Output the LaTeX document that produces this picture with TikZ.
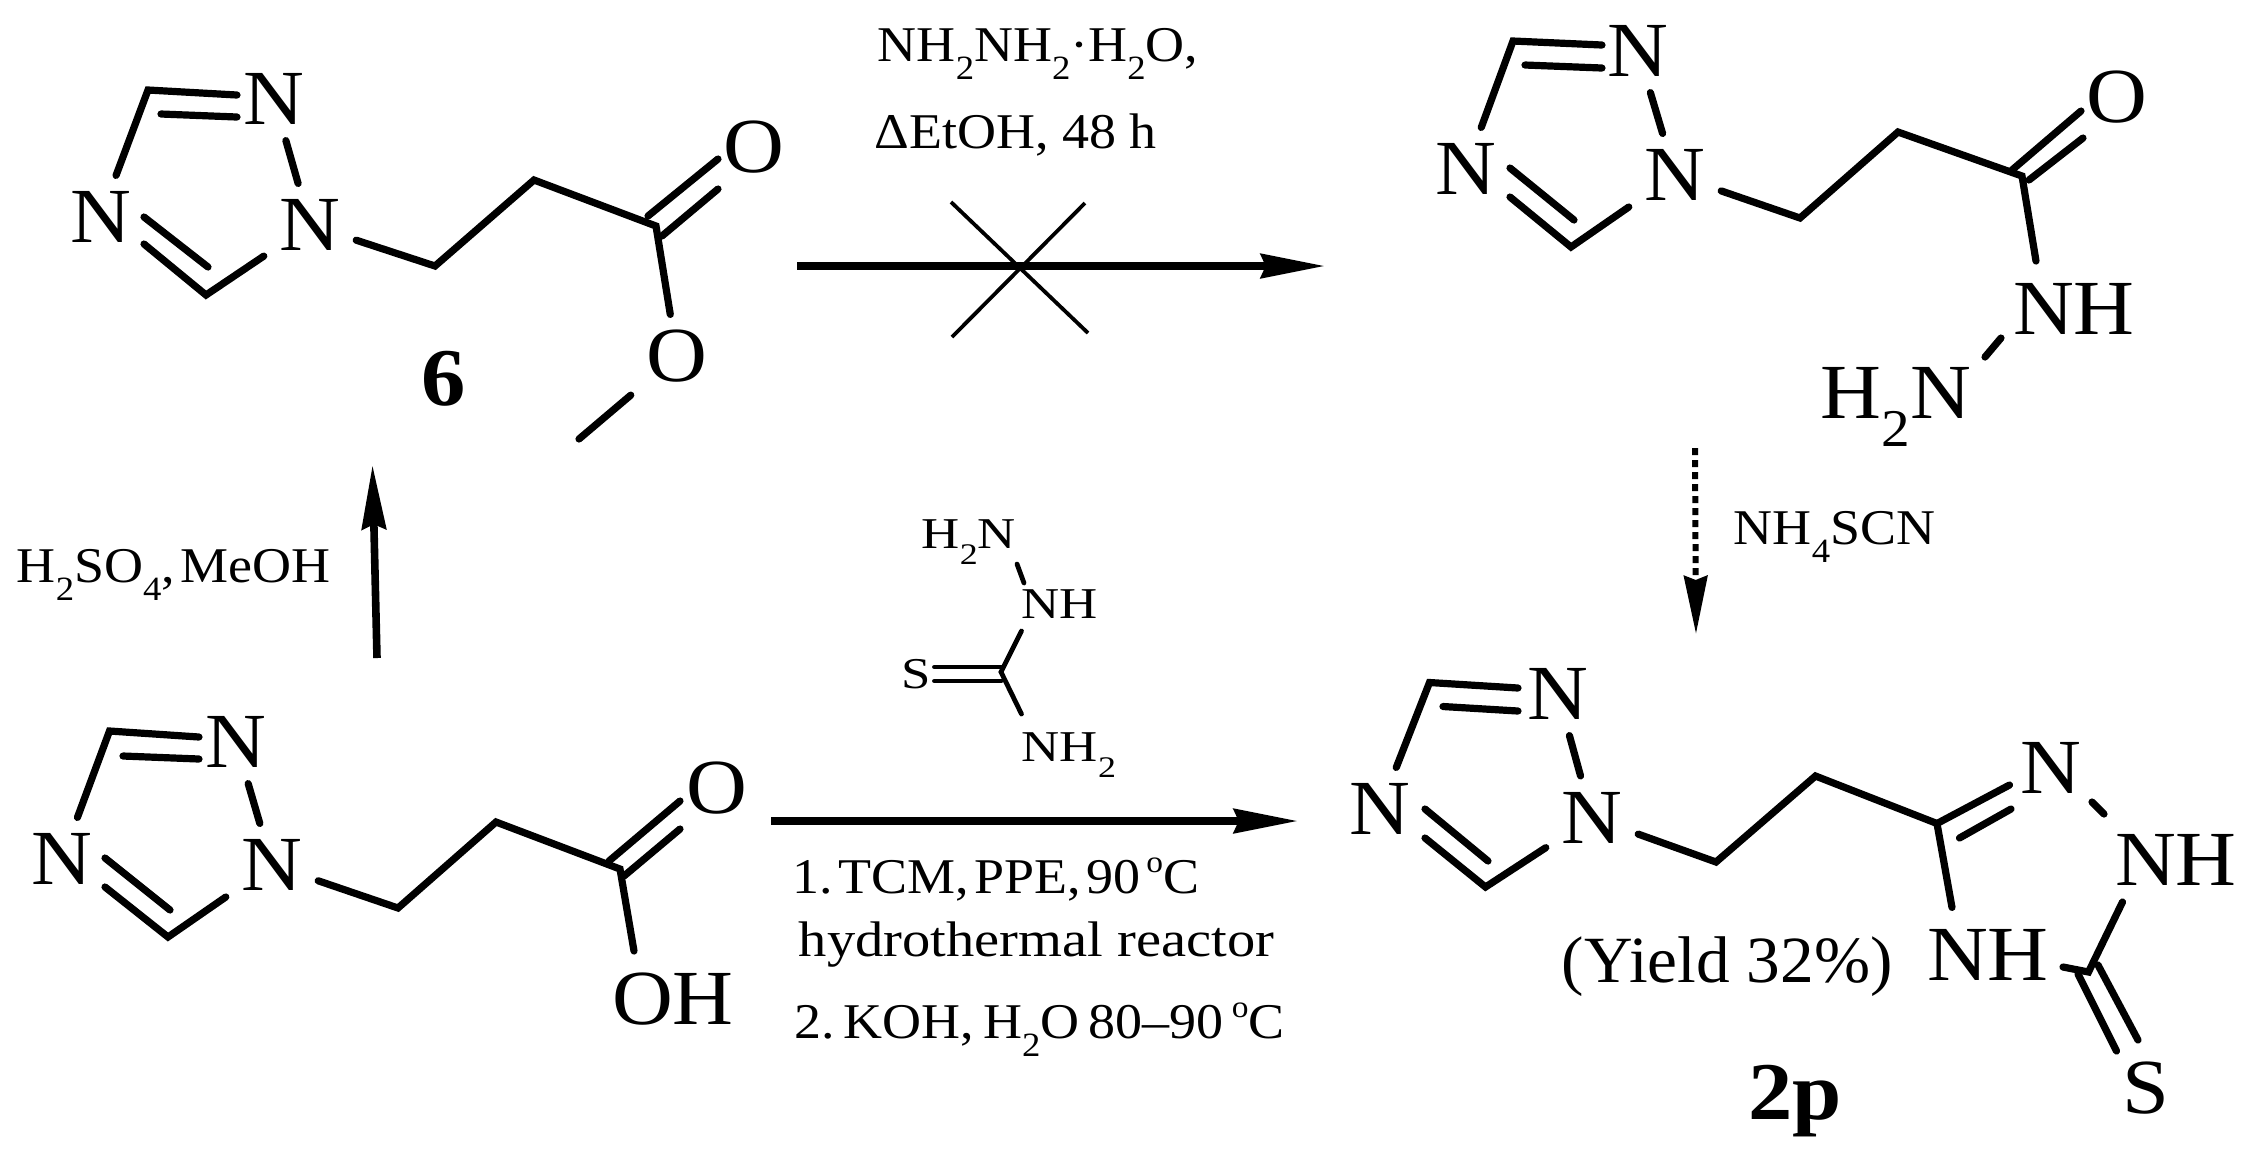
\documentclass[tikz,border=0pt]{standalone}
\usepackage{fontspec}
\usepackage{graphicx}
\setmainfont[FakeStretch=1.08]{Liberation Serif}
\newfontfamily\widefont[FakeStretch=1.13]{Liberation Serif}
\newfontfamily\thiofont[FakeStretch=1.2]{Liberation Serif}
\newfontfamily\yieldfont[FakeStretch=1.02]{Liberation Serif}
\usetikzlibrary{arrows.meta}
\newcommand{\lo}[1]{\raisebox{-0.37em}{\scalebox{0.68}{#1}}}
\newcommand{\dg}{\raisebox{0.42em}{\scalebox{0.62}{o}}}
\newcommand{\nsp}{\hspace{-2pt}\ }
\newcommand{\msp}{\hspace{-1.2pt}\ }
\tikzset{
  bond/.style={line width=1.8pt,line cap=round,line join=miter},
  thinbond/.style={line width=1.2pt,line cap=round,line join=miter},
  atom/.style={font=\fontsize{19.5pt}{19.5pt}\selectfont,text height=12.9pt,text depth=0pt,inner sep=3.75pt,anchor=center},
  atomline/.style={font=\fontsize{19.5pt}{19.5pt}\selectfont,inner sep=0pt,anchor=base west},
  smallatom/.style={font=\thiofont\fontsize{11pt}{11pt}\selectfont,text height=7.3pt,text depth=0pt,inner sep=2.5pt,anchor=center},
  smallline/.style={font=\thiofont\fontsize{11pt}{11pt}\selectfont,inner sep=0pt,anchor=base west},
  cond/.style={font=\fontsize{12.5pt}{12.5pt}\selectfont,inner sep=0pt,anchor=base west},
  yieldtext/.style={font=\yieldfont\fontsize{16.5pt}{16.5pt}\selectfont,inner sep=0pt,anchor=base west},
  compound/.style={font=\bfseries\fontsize{20.5pt}{20.5pt}\selectfont,inner sep=0pt,anchor=base},
  rxn/.style={line width=1.9pt,-{Stealth[length=16pt,width=6pt,inset=1.2pt]}},
  dotrxn/.style={line width=1.5pt,dash pattern=on 1.75pt off 1.25pt,-{Stealth[length=14.5pt,width=5.8pt,inset=1pt]}},
  crossline/.style={line width=0.95pt},
}
\begin{document}
\begin{tikzpicture}[x=0.25pt,y=-0.25pt]
\useasboundingbox (0,0) rectangle (2253,1161);

% ---------- compound 6
\node[atom] (pNb) at (274,99) {N};
\node[atom] (pNd) at (100.5,217) {N};
\node[atom] (pNa) at (310,225) {N};
\node[atom] (pOd) at (754,147) {O};
\node[atom] (pOs) at (677,356) {O};
\coordinate (pC5) at (148,90);
\coordinate (pC3) at (206,295);
\coordinate (pA) at (237,95);
\coordinate (pB) at (161,114);
\coordinate (pBe) at (237,117);
\coordinate (pD) at (144,244);
\coordinate (pE) at (144,217);
\coordinate (pEe) at (208,267);
\coordinate (pCa) at (435,266);
\coordinate (pCb) at (534,180);
\coordinate (pCc) at (656,226);
\coordinate (pF) at (648,216);
\coordinate (pFe) at (718,159);
\coordinate (pG) at (662,236);
\coordinate (pGe) at (718,189);
\coordinate (pMe) at (579,439);
\draw[bond] (pNd) -- (pC5) -- (pA);
\draw[bond] (pB) -- (pBe);
\draw[bond] (pNb) -- (pNa);
\draw[bond] (pD) -- (pC3) -- (pNa);
\draw[bond] (pE) -- (pEe);
\draw[bond] (pNa) -- (pCa) -- (pCb) -- (pCc) -- (pOs);
\draw[bond] (pF) -- (pFe);
\draw[bond] (pG) -- (pGe);
\draw[bond] (pOs) -- (pMe);
\node[compound] (six) at (444,405) {6};

% ---------- hydrazide (top right)
\node[atom] (hNb) at (1638,51) {N};
\node[atom] (hNd) at (1466,169) {N};
\node[atom] (hNa) at (1675,175) {N};
\node[atom] (hO) at (2117,97) {O};
\node[atom] (hNH) at (2074,309) {NH};
\node[atomline] (hNHH) at (1820,418) {H\lo{2}N};
\coordinate (hC5) at (1513,41);
\coordinate (hC3) at (1571,247);
\coordinate (hA) at (1602,45);
\coordinate (hB) at (1525,65);
\coordinate (hBe) at (1602,68);
\coordinate (hD) at (1510,197);
\coordinate (hE) at (1510,168);
\coordinate (hEe) at (1574,220);
\coordinate (hCa) at (1800,218);
\coordinate (hCb) at (1898,132);
\coordinate (hCc) at (2022,176);
\coordinate (hCd) at (2036,261);
\coordinate (hF) at (2012,170);
\coordinate (hFe) at (2081,111);
\coordinate (hG) at (2029,180);
\coordinate (hGe) at (2083,138);
\coordinate (hNNa) at (2001,338);
\coordinate (hNNb) at (1985,357);
\draw[bond] (hNd) -- (hC5) -- (hA);
\draw[bond] (hB) -- (hBe);
\draw[bond] (hNb) -- (hNa);
\draw[bond] (hD) -- (hC3) -- (hNa);
\draw[bond] (hE) -- (hEe);
\draw[bond] (hNa) -- (hCa) -- (hCb) -- (hCc) -- (hCd);
\draw[bond] (hF) -- (hFe);
\draw[bond] (hG) -- (hGe);
\draw[bond] (hNNa) -- (hNNb);

% ---------- acid (lower left)
\node[atom] (aNb) at (236,742) {N};
\node[atom] (aNd) at (62,859) {N};
\node[atom] (aNa) at (272,865) {N};
\node[atom] (aO) at (717,788) {O};
\node[atom] (aOH) at (673,999) {OH};
\coordinate (aC5) at (109.5,731);
\coordinate (aC3) at (168,937);
\coordinate (aA) at (199,737);
\coordinate (aB) at (123,756);
\coordinate (aBe) at (199,759);
\coordinate (aD) at (105,887);
\coordinate (aE) at (105,858);
\coordinate (aEe) at (170,910);
\coordinate (aCa) at (398,908);
\coordinate (aCb) at (496,822);
\coordinate (aCc) at (620,869);
\coordinate (aCd) at (634,951);
\coordinate (aF) at (609,861);
\coordinate (aFe) at (680,801);
\coordinate (aG) at (624,876);
\coordinate (aGe) at (680,829);
\draw[bond] (aNd) -- (aC5) -- (aA);
\draw[bond] (aB) -- (aBe);
\draw[bond] (aNb) -- (aNa);
\draw[bond] (aD) -- (aC3) -- (aNa);
\draw[bond] (aE) -- (aEe);
\draw[bond] (aNa) -- (aCa) -- (aCb) -- (aCc) -- (aCd);
\draw[bond] (aF) -- (aFe);
\draw[bond] (aG) -- (aGe);

% ---------- product 2p
\node[atom] (tNb) at (1558,694) {N};
\node[atom] (tNd) at (1380,809) {N};
\node[atom] (tNa) at (1592,817.5) {N};
\node[atom] (tNx) at (2051,767.5) {N};
\node[atom] (tNHa) at (2176,860) {NH};
\node[atom] (tNHb) at (1988,955) {NH};
\node[atom] (tS) at (2146,1087.6) {S};
\coordinate (tC5) at (1429.5,682.5);
\coordinate (tC3) at (1485.5,887);
\coordinate (tA) at (1518,688);
\coordinate (tB) at (1443,706.5);
\coordinate (tBe) at (1518,711);
\coordinate (tD) at (1425,838);
\coordinate (tE) at (1425,809);
\coordinate (tEe) at (1488,861);
\coordinate (tCa) at (1716,862);
\coordinate (tCb) at (1815.5,776);
\coordinate (tCc) at (1937,823.5);
\coordinate (tCd) at (1952,907.4);
\coordinate (tF) at (2009.5,785);
\coordinate (tG) at (1959.5,838);
\coordinate (tGe) at (2011,809);
\coordinate (tNNa) at (2092,802);
\coordinate (tNNb) at (2104,814);
\coordinate (tH) at (2122.5,902);
\coordinate (tCe) at (2088.5,972);
\coordinate (tI) at (2063,967);
\coordinate (tJ) at (2078,974);
\coordinate (tJe) at (2116.5,1051);
\coordinate (tK) at (2098,965);
\coordinate (tKe) at (2138,1040);
\draw[bond] (tNd) -- (tC5) -- (tA);
\draw[bond] (tB) -- (tBe);
\draw[bond] (tNb) -- (tNa);
\draw[bond] (tD) -- (tC3) -- (tNa);
\draw[bond] (tE) -- (tEe);
\draw[bond] (tNa) -- (tCa) -- (tCb) -- (tCc) -- (tCd);
\draw[bond] (tCc) -- (tF);
\draw[bond] (tG) -- (tGe);
\draw[bond] (tNNa) -- (tNNb);
\draw[bond] (tH) -- (tCe) -- (tI);
\draw[bond] (tJ) -- (tJe);
\draw[bond] (tK) -- (tKe);
\node[yieldtext] (yield) at (1561,982) {(Yield 32\%)};
\node[compound] (twop) at (1795,1119) {2p};

% ---------- thiosemicarbazide
\node[smallline] (zHN) at (921,548) {H\lo{2}N};
\node[smallatom] (zNH) at (1060,604) {NH};
\node[smallatom] (zS) at (916,674) {S};
\node[smallline] (zNHt) at (1021,761) {NH\lo{2}};
\coordinate (zC) at (1001,672);
\coordinate (zNa) at (1017,564);
\coordinate (zNe) at (1024,583);
\coordinate (zUp) at (1021.5,631);
\coordinate (zDn) at (1021.5,714);
\coordinate (zA) at (934.5,667);
\coordinate (zAe) at (1001,667);
\coordinate (zB) at (934.5,681);
\coordinate (zBe) at (1001,681);
\draw[thinbond] (zUp) -- (zC) -- (zDn);
\draw[thinbond] (zNa) -- (zNe);
\draw[thinbond] (zA) -- (zAe);
\draw[thinbond] (zB) -- (zBe);

% ---------- reaction arrows
\coordinate (r1s) at (377,658);
\coordinate (r1e) at (372.5,465);
\draw[rxn] (r1s) -- (r1e);
\coordinate (r2s) at (797,266);
\coordinate (r2e) at (1325,266);
\draw[rxn] (r2s) -- (r2e);
\coordinate (r3s) at (771,821);
\coordinate (r3e) at (1298,821);
\draw[rxn] (r3s) -- (r3e);
\coordinate (r4s) at (1695,448);
\coordinate (r4e) at (1696,634);
\draw[dotrxn] (r4s) -- (r4e);
\coordinate (xa) at (951,202);
\coordinate (xb) at (1088,333);
\coordinate (xc) at (1085,203);
\coordinate (xd) at (952,337);
\draw[crossline] (xa) -- (xb);
\draw[crossline] (xc) -- (xd);

% ---------- conditions
\node[cond] (c1) at (16,582) {H\lo{2}SO\lo{4},\nsp MeOH};
\node[cond] (c2) at (877,61) {NH\lo{2}NH\lo{2}·H\lo{2}O,};
\node[cond] (c3) at (874,148) {ΔEtOH, 48 h};
\node[cond] (c4) at (1733,544) {NH\lo{4}SCN};
\node[cond] (c5) at (792,893) {1.\nsp TCM,\nsp PPE,\nsp 90\nsp \dg C};
\node[cond,font=\widefont\fontsize{12.5pt}{12.5pt}\selectfont] (c6) at (798,956) {hydrothermal reactor};
\node[cond] (c7) at (794,1038) {2.\msp KOH,\msp H\lo{2}O\msp 80–90\msp \dg C};
\end{tikzpicture}
\end{document}
